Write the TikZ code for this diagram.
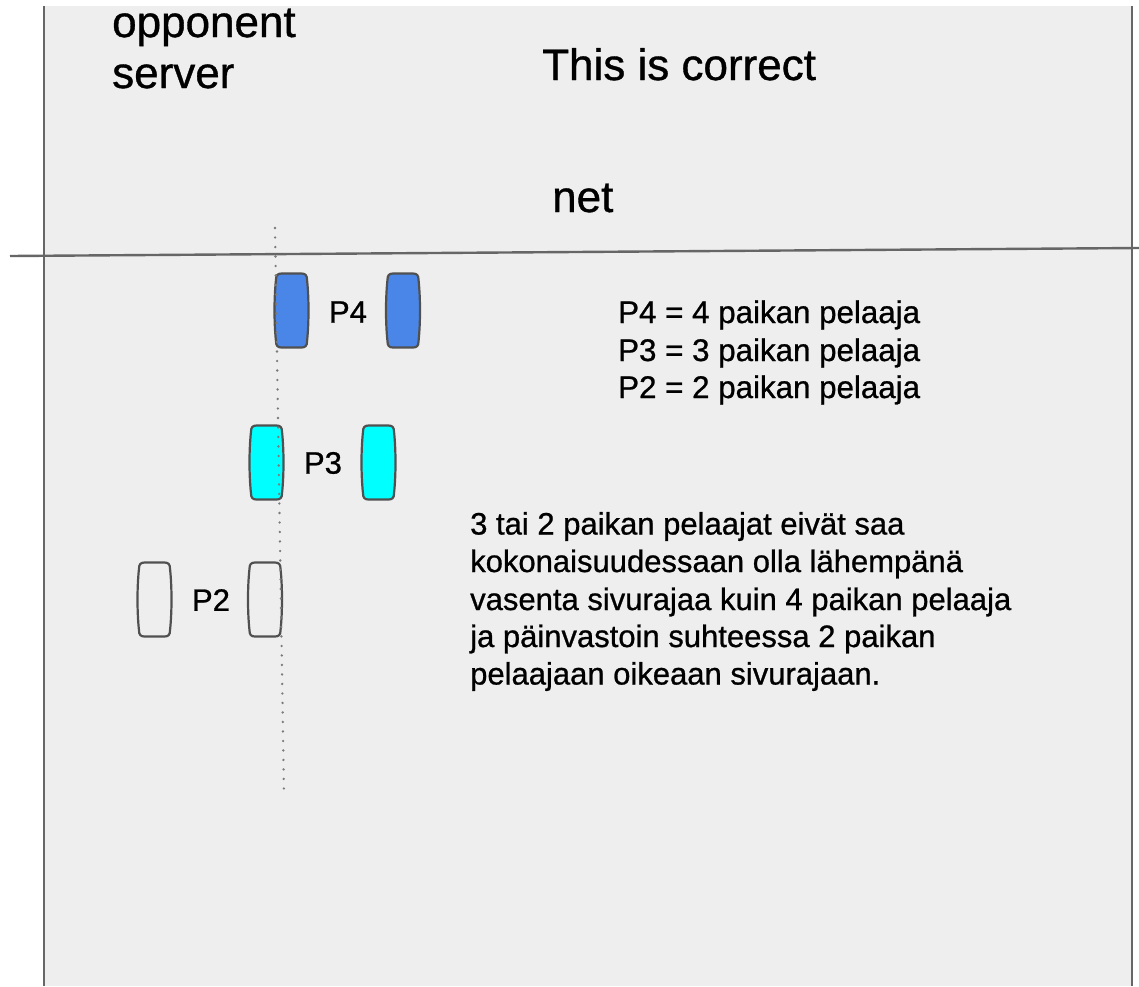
\documentclass[tikz,border=0pt]{standalone}
\usepackage{fontspec}
\setmainfont{Liberation Sans}[FakeBold=0.8]
\begin{document}
\definecolor{courtbg}{HTML}{EEEEEE}
\definecolor{linegray}{HTML}{666666}
\definecolor{edgegray}{HTML}{505050}
\definecolor{dotgray}{HTML}{7A7A7A}
\definecolor{p4blue}{HTML}{4A86E8}
\definecolor{p3cyan}{HTML}{00FFFF}
\begin{tikzpicture}[x=1pt,y=-1pt,
  courtline/.style={draw=linegray,line width=2.4pt},
  bigtext/.style={inner sep=0pt,anchor=base west,font=\fontsize{44}{52}\selectfont},
  smalltext/.style={inner sep=0pt,anchor=base west,font=\fontsize{31}{37}\selectfont},
  legendtext/.style={inner sep=0pt,anchor=base west,font=\fontsize{31.3}{37}\selectfont},
  tag/.style={inner sep=0pt,font=\fontsize{31}{37}\selectfont},
  centreline/.style={draw=dotgray,line width=2.6pt,line cap=round,dash pattern=on 0pt off 9.5pt},
  player/.pic={
    \path[draw=edgegray,line width=2.2pt,pic actions]
      (-10,-37) -- (10,-37)
      .. controls (14,-37) and (15.5,-35) .. (15.5,-31)
      .. controls (17.5,-12) and (17.5,12) .. (15.5,31)
      .. controls (15.5,35) and (14,37) .. (10,37)
      -- (-10,37)
      .. controls (-14,37) and (-15.5,35) .. (-15.5,31)
      .. controls (-17.5,12) and (-17.5,-12) .. (-15.5,-31)
      .. controls (-15.5,-35) and (-14,-37) .. (-10,-37) -- cycle;
  }]
\useasboundingbox (0,0) rectangle (1139,986);
\fill[white] (0,0) rectangle (1139,986);
% court surface and side lines
\fill[courtbg] (44,6) rectangle (1132,986);
\coordinate (lefttop) at (44,6);
\coordinate (leftbot) at (44,986);
\coordinate (righttop) at (1132,6);
\coordinate (rightbot) at (1132,986);
\draw[courtline] (lefttop) -- (leftbot);
\draw[courtline] (righttop) -- (rightbot);
% the net
\coordinate (netL) at (10,256);
\coordinate (netR) at (1139,248);
\draw[courtline] (netL) -- (netR);
% reference line through the P4 player's left edge
\coordinate (refT) at (275,228);
\coordinate (refB) at (284,797);
% players
\pic[fill=p4blue] at (291.5,310.5) {player};
\pic[fill=p4blue] at (403,310.5) {player};
\node[tag] (p4) at (348,312) {P4};
\pic[fill=p3cyan] at (266.5,462.5) {player};
\pic[fill=p3cyan] at (378.5,462.5) {player};
\node[tag] (p3) at (323,463) {P3};
\pic[fill=courtbg] at (154.5,599.5) {player};
\pic[fill=courtbg] at (265,599.5) {player};
\node[tag] (p2) at (211,600) {P2};
\draw[centreline] (refT) -- (refB);
% headings
\node[bigtext] (opp1) at (112,37) {opponent};
\node[bigtext] (opp2) at (112,88) {server};
\node[bigtext] (title) at (542,80) {This is correct};
\node[bigtext] (net) at (552,212) {net};
% legend
\node[legendtext] (leg1) at (618,323) {P4 = 4 paikan pelaaja};
\node[legendtext] (leg2) at (618,361) {P3 = 3 paikan pelaaja};
\node[legendtext] (leg3) at (618,398) {P2 = 2 paikan pelaaja};
% rule text
\node[smalltext] (r1) at (470,534.5) {3 tai 2 paikan pelaajat eivät saa};
\node[smalltext] (r2) at (470,572) {kokonaisuudessaan olla lähempänä};
\node[smalltext] (r3) at (470,610) {vasenta sivurajaa kuin 4 paikan pelaaja};
\node[smalltext] (r4) at (470,647) {ja päinvastoin suhteessa 2 paikan};
\node[smalltext] (r5) at (470,684.5) {pelaajaan oikeaan sivurajaan.};
\end{tikzpicture}
\end{document}
